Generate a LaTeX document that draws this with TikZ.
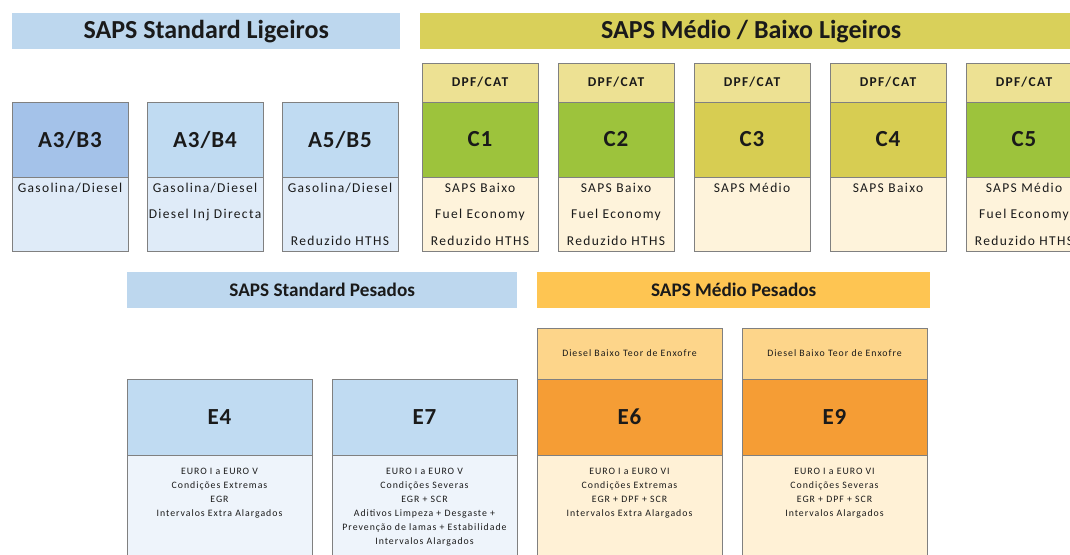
\documentclass[tikz,border=0pt]{standalone}
\usepackage{fontspec}
\setmainfont{Carlito}
\newfontfamily\wideface[LetterSpace=10]{Carlito}
\newfontfamily\headface[LetterSpace=4]{Carlito}
\usepackage{xcolor}
\usetikzlibrary{positioning}

\definecolor{blueband}{HTML}{BDD7EE}
\definecolor{bluedeep}{HTML}{A4C2E9}
\definecolor{bluehead}{HTML}{C0DBF2}
\definecolor{bluebody}{HTML}{DFEBF8}
\definecolor{bluepale}{HTML}{EEF4FB}
\definecolor{oliveband}{HTML}{D9D05A}
\definecolor{olivehead}{HTML}{D7CD52}
\definecolor{dpffill}{HTML}{EDE193}
\definecolor{greenhead}{HTML}{9DC33C}
\definecolor{creambody}{HTML}{FEF3DB}
\definecolor{orangeband}{HTML}{FEC552}
\definecolor{dieselfill}{HTML}{FDD58A}
\definecolor{orangehead}{HTML}{F59D35}
\definecolor{orangebody}{HTML}{FFF1D6}
\definecolor{boxgray}{HTML}{808080}
\definecolor{textgray}{HTML}{1A1A1A}

\begin{document}
\begin{tikzpicture}[x=1pt, y=-1pt,
  banner/.style={anchor=north west, minimum height=36pt, inner sep=0pt, text=textgray, font=\bfseries\fontsize{26}{26}\selectfont},
  subbanner/.style={banner, font=\bfseries\fontsize{19.2}{19.2}\selectfont},
  cell/.style={draw=boxgray, line width=0.7pt, inner sep=0pt, outer sep=0pt, text=textgray, minimum width=116pt},
  head/.style={cell, minimum height=75pt, font=\headface\bfseries\fontsize{23}{23}\selectfont},
  body/.style={cell, minimum height=74pt, align=center, font=\wideface\fontsize{13.5}{26.5}\selectfont},
  dpf/.style={cell, fill=dpffill, minimum height=39pt, font=\wideface\bfseries\fontsize{13.5}{13.5}\selectfont},
  ehead/.style={head, minimum width=185pt, minimum height=76pt},
  ediesel/.style={cell, fill=dieselfill, minimum width=185pt, minimum height=51pt, font=\wideface\fontsize{9.8}{9.8}\selectfont},
  ebody/.style={cell, minimum width=185pt, minimum height=110pt},
  etext/.style={inner sep=0pt, align=center, text=textgray, font=\wideface\fontsize{9.8}{14}\selectfont}]
\fill[white] (0,0) rectangle (1070,554);
\useasboundingbox (0,0) rectangle (1070,554);

\node[banner, fill=blueband, minimum width=388pt] (ligstd) at (12,13) {SAPS Standard Ligeiros};
\node[banner, fill=oliveband, minimum width=662pt] (ligmed) at (420,13) {SAPS Médio / Baixo Ligeiros};

\node[head, fill=bluedeep, anchor=north west] (a3b3) at (12,102) {A3/B3};
\node[head, fill=bluehead, right=19pt of a3b3] (a3b4) {A3/B4};
\node[head, fill=bluehead, right=19pt of a3b4] (a5b5) {A5/B5};
\node[body, fill=bluebody, below=0pt of a3b3] (a3b3b) {Gasolina/Diesel\\~\\~};
\node[body, fill=bluebody, below=0pt of a3b4] (a3b4b) {Gasolina/Diesel\\Diesel Inj Directa\\~};
\node[body, fill=bluebody, below=0pt of a5b5] (a5b5b) {Gasolina/Diesel\\~\\Reduzido HTHS};

\node[dpf, anchor=north west] (c1d) at (422,63) {DPF/CAT};
\node[dpf, right=20pt of c1d] (c2d) {DPF/CAT};
\node[dpf, right=20pt of c2d] (c3d) {DPF/CAT};
\node[dpf, right=20pt of c3d] (c4d) {DPF/CAT};
\node[dpf, right=20pt of c4d] (c5d) {DPF/CAT};
\node[head, fill=greenhead, below=0pt of c1d] (c1) {C1};
\node[head, fill=greenhead, below=0pt of c2d] (c2) {C2};
\node[head, fill=olivehead, below=0pt of c3d] (c3) {C3};
\node[head, fill=olivehead, below=0pt of c4d] (c4) {C4};
\node[head, fill=greenhead, below=0pt of c5d] (c5) {C5};
\node[body, fill=creambody, below=0pt of c1] (c1b) {SAPS Baixo\\Fuel Economy\\Reduzido HTHS};
\node[body, fill=creambody, below=0pt of c2] (c2b) {SAPS Baixo\\Fuel Economy\\Reduzido HTHS};
\node[body, fill=creambody, below=0pt of c3] (c3b) {SAPS Médio\\~\\~};
\node[body, fill=creambody, below=0pt of c4] (c4b) {SAPS Baixo\\~\\~};
\node[body, fill=creambody, below=0pt of c5] (c5b) {SAPS Médio\\Fuel Economy\\Reduzido HTHS};

\node[subbanner, fill=blueband, minimum width=390pt] (pesstd) at (127,272) {SAPS Standard Pesados};
\node[subbanner, fill=orangeband, minimum width=393pt] (pesmed) at (537,272) {SAPS Médio Pesados};

\node[ehead, fill=bluehead, anchor=north west] (e4) at (127,379) {E4};
\node[ehead, fill=bluehead, right=20pt of e4] (e7) {E7};
\node[ehead, fill=orangehead, right=20pt of e7] (e6) {E6};
\node[ehead, fill=orangehead, right=20pt of e6] (e9) {E9};
\node[ediesel, above=0pt of e6] (e6d) {Diesel Baixo Teor de Enxofre};
\node[ediesel, above=0pt of e9] (e9d) {Diesel Baixo Teor de Enxofre};
\node[ebody, fill=bluepale, below=0pt of e4] (e4b) {};
\node[ebody, fill=bluepale, below=0pt of e7] (e7b) {};
\node[ebody, fill=orangebody, below=0pt of e6] (e6b) {};
\node[ebody, fill=orangebody, below=0pt of e9] (e9b) {};
\node[etext, below=13pt of e4.south] (e4t) {EURO I a EURO V\\Condições Extremas\\EGR\\Intervalos Extra Alargados};
\node[etext, below=13pt of e7.south] (e7t) {EURO I a EURO V\\Condições Severas\\EGR + SCR\\Aditivos Limpeza + Desgaste +\\Prevenção de lamas + Estabilidade\\Intervalos Alargados};
\node[etext, below=13pt of e6.south] (e6t) {EURO I a EURO VI\\Condições Extremas\\EGR + DPF + SCR\\Intervalos Extra Alargados};
\node[etext, below=13pt of e9.south] (e9t) {EURO I a EURO VI\\Condições Severas\\EGR + DPF + SCR\\Intervalos Alargados};
\end{tikzpicture}
\end{document}
